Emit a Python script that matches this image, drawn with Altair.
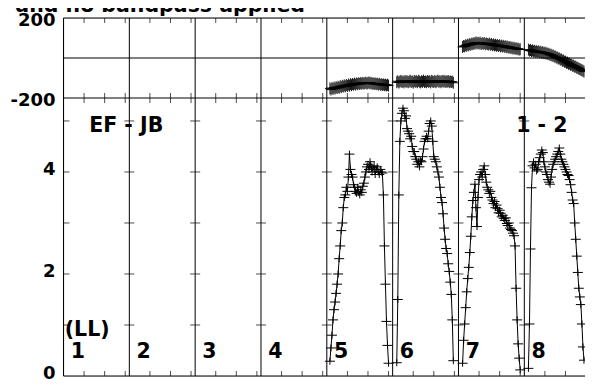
import altair as alt
import pandas as pd

# ---------------- data ----------------
IF_LABELS = ["1", "2", "3", "4", "5", "6", "7", "8"]
CHANNELS_PER_IF = 64
CHANNEL_TICKS = [20, 40, 60]
AMP_TICKS = [1, 2, 3, 4, 5]
AMP_LABELS = [0, 2, 4]
PHASE_LABELS = [-200, 200]

# first channel of the plotted data in each IF that has data
START_CHANNEL = {5: 3, 6: 4, 7: 4, 8: 4}

AMP_IF5 = [0.29, 0.55, 0.8, 1.1, 1.3, 1.45, 1.62, 1.8, 2.0, 2.3,
           2.55, 2.85, 3.0, 3.3, 3.5, 3.55, 3.7, 3.62, 3.9, 4.35,
           4.05, 3.95, 3.9, 3.75, 3.7, 3.62, 3.58, 3.7, 3.6, 3.55,
           3.65, 3.6, 3.72, 3.78, 3.9, 4.0, 4.1, 4.15, 4.05, 4.2,
           4.1, 4.0, 4.08, 4.12, 3.95, 4.05, 4.1, 4.0, 3.95, 4.05,
           4.0, 3.98, 3.55, 2.55, 1.8, 1.07, 0.6, 0.25]
AMP_IF6 = [0.26, 1.5, 3.55, 4.6, 5.0, 5.15, 5.25, 5.2, 5.05, 5.1,
           4.85, 4.8, 4.75, 4.65, 4.7, 4.5, 4.4, 4.4, 4.3, 4.25,
           4.15, 4.2, 4.1, 4.22, 4.2, 4.3, 4.45, 4.6, 4.65, 4.7,
           4.65, 4.8, 4.95, 5.0, 4.9, 4.6, 4.3, 4.25, 4.2, 4.1,
           4.0, 3.9, 3.7, 3.5, 3.4, 3.18, 2.9, 2.68, 2.5, 2.4,
           2.2, 2.05, 1.84, 1.6, 1.1, 0.3]
AMP_IF7 = [0.25, 0.7, 1.02, 1.34, 1.65, 1.91, 2.13, 2.42, 2.74, 3.12,
           3.44, 3.6, 3.76, 3.3, 2.93, 3.5, 3.85, 3.95, 4.0, 3.9,
           4.05, 4.12, 3.95, 3.8, 3.7, 3.65, 3.58, 3.62, 3.5, 3.45,
           3.38, 3.42, 3.3, 3.35, 3.28, 3.2, 3.25, 3.19, 3.12, 3.15,
           3.09, 3.05, 3.1, 2.99, 2.95, 3.0, 2.9, 2.87, 2.85, 2.8,
           2.75, 2.55, 1.72, 1.1, 0.63, 0.35, 0.12]
AMP_IF8 = [0.15, 1.02, 2.49, 3.69, 4.12, 4.2, 4.08, 4.15, 4.02, 4.05,
           4.2, 4.28, 4.35, 4.43, 4.38, 4.2, 4.1, 4.0, 3.95, 3.85,
           3.8, 3.76, 3.9, 4.05, 4.15, 4.2, 4.25, 4.3, 4.35, 4.4,
           4.47, 4.35, 4.25, 4.2, 4.15, 4.1, 4.05, 4.0, 3.95, 3.93,
           3.85, 3.75, 3.6, 3.45, 3.38, 3.0, 2.68, 2.35, 2.03, 1.72,
           1.55, 1.4, 1.02, 0.57, 0.31]

PH_IF5 = [-152, -158, -150, -155, -148, -153, -146, -150, -144, -149,
          -141, -146, -139, -143, -137, -142, -135, -140, -133, -138,
          -131, -136, -130, -134, -128, -133, -127, -131, -126, -130,
          -125, -129, -124, -128, -126, -123, -128, -125, -122, -127,
          -124, -129, -126, -130, -127, -131, -128, -133, -129, -134,
          -131, -135, -132, -136, -133, -137, -134, -138]
PH_IF6 = [-121, -116, -123, -118, -114, -120, -117, -122, -115, -119,
          -116, -121, -118, -113, -120, -117, -123, -115, -119, -116,
          -121, -114, -118, -122, -116, -119, -113, -120, -117, -121,
          -115, -119, -116, -122, -114, -118, -120, -115, -121, -117,
          -113, -119, -116, -121, -115, -118, -114, -120, -116, -119,
          -115, -121, -117, -120, -118, -124]
PH_IF7 = [55, 60, 58, 64, 61, 67, 63, 70, 66, 72,
          69, 75, 71, 78, 73, 76, 72, 77, 70, 74,
          71, 75, 68, 73, 70, 67, 72, 66, 70, 64,
          68, 63, 66, 61, 65, 60, 64, 58, 62, 57,
          61, 55, 59, 53, 57, 51, 55, 49, 53, 47,
          51, 46, 49, 44, 47, 42, 44]
PH_IF8 = [42, 37, 40, 35, 38, 33, 36, 31, 34, 30,
          33, 28, 31, 26, 29, 24, 27, 22, 24, 19,
          21, 15, 17, 11, 13, 7, 8, 2, 3, -3,
          -2, -8, -7, -14, -12, -19, -18, -24, -23, -29,
          -28, -34, -33, -39, -38, -44, -43, -49, -49, -54,
          -55, -59, -61, -64, -68]

TITLE = "ed and no bandpass applied"
BASELINE_LABEL = "EF - JB"
POL_LABEL = "(LL)"
SOURCE_LABEL = "1 - 2"

# ---------------- tables built from the arrays ----------------
rows = []
for ifn, amps, phs in [(5, AMP_IF5, PH_IF5), (6, AMP_IF6, PH_IF6),
                       (7, AMP_IF7, PH_IF7), (8, AMP_IF8, PH_IF8)]:
    s = START_CHANNEL[ifn]
    for i, (a, p) in enumerate(zip(amps, phs)):
        rows.append({"IF": ifn, "chan": s + i,
                     "x": (ifn - 1) * CHANNELS_PER_IF + s + i,
                     "amp": a, "phase": p})
df = pd.DataFrame(rows)

n_if = len(IF_LABELS)
bounds = pd.DataFrame({"x": [k * CHANNELS_PER_IF for k in range(0, n_if)]})
chan_ticks = pd.DataFrame({"x": [k * CHANNELS_PER_IF + c for k in range(n_if)
                                 for c in CHANNEL_TICKS]})
bound_ticks = pd.DataFrame([{"x": k * CHANNELS_PER_IF, "amp": a}
                            for k in range(1, n_if) for a in AMP_TICKS])
left_ticks = pd.DataFrame({"x": [0] * len(AMP_TICKS), "amp": AMP_TICKS})
if_text = pd.DataFrame({"x": [k * CHANNELS_PER_IF + 7.0 for k in range(n_if)],
                        "amp": [0.35] * n_if, "t": IF_LABELS})
pol_text = pd.DataFrame({"x": [1.2], "amp": [0.79], "t": [POL_LABEL]})
head_text = pd.DataFrame({"x": [61.0, 465.0], "amp": [4.79, 4.79],
                          "t": [BASELINE_LABEL, SOURCE_LABEL]})
ph_lab = pd.DataFrame({"v": PHASE_LABELS, "t": [str(v) for v in PHASE_LABELS]})
am_lab = pd.DataFrame({"v": AMP_LABELS, "t": [str(v) for v in AMP_LABELS]})
one = pd.DataFrame({"v": [0]})
ph_edges = pd.DataFrame({"v": PHASE_LABELS})

# ---------------- scales ----------------
XS = alt.Scale(domain=[0, 507], nice=False, zero=False)
PH = alt.Scale(domain=[-200, 200], range=[80, 0], nice=False, zero=False)
AMP_TOP = 5.45
AM = alt.Scale(domain=[0, AMP_TOP], range=[358, 80], nice=False, zero=False)

FONT = "DejaVu Sans"
CROSS_AMP = "M-1,0H1M0,-0.7V0.7"
CROSS_PH = "M-1,0H1M0,-1.2V1.2"

x_enc = alt.X("x:Q", scale=XS, axis=None)

LAB = dict(font=FONT, fontWeight="bold", fontSize=18, color="black",
           align="right", baseline="middle")

# ---------------- phase panel ----------------
ph_line = alt.Chart(df).mark_line(color="black", strokeWidth=1, clip=True).encode(
    x=x_enc, y=alt.Y("phase:Q", scale=PH, axis=None), detail="IF:N")
ph_pts = alt.Chart(df).mark_point(shape=CROSS_PH, filled=False, size=100,
                                  color="black", strokeWidth=1, opacity=0.9,
                                  clip=True).encode(
    x=x_enc, y=alt.Y("phase:Q", scale=PH, axis=None))
ph_zero = alt.Chart(one).mark_rule(color="black", strokeWidth=1).encode(
    y=alt.Y("v:Q", scale=PH, axis=None))
ph_frame = alt.Chart(ph_edges).mark_rule(color="black", strokeWidth=1).encode(
    y=alt.Y("v:Q", scale=PH, axis=None))
ph_tick_top = alt.Chart(chan_ticks).transform_calculate(b="200").mark_tick(
    orient="vertical", size=5, thickness=1, color="black", yOffset=2.5).encode(
    x=x_enc, y=alt.Y("b:Q", scale=PH, axis=None))
ph_tick_bot = alt.Chart(chan_ticks).transform_calculate(b="-200").mark_tick(
    orient="vertical", size=5, thickness=1, color="black", yOffset=-2.5).encode(
    x=x_enc, y=alt.Y("b:Q", scale=PH, axis=None))
ph_labels = alt.Chart(ph_lab).mark_text(dx=-8, dy=2.5, **LAB).encode(
    x=alt.value(0), y=alt.Y("v:Q", scale=PH, axis=None), text="t:N")

phase_panel = alt.layer(ph_zero, ph_frame, ph_tick_top, ph_tick_bot, ph_line,
                        ph_pts, ph_labels)

# ---------------- amplitude panel ----------------
b_rules = alt.Chart(bounds).mark_rule(color="black", strokeWidth=1).encode(x=x_enc)
am_bottom = alt.Chart(one).mark_rule(color="black", strokeWidth=1).encode(
    y=alt.Y("v:Q", scale=AM, axis=None))
am_line = alt.Chart(df).mark_line(color="black", strokeWidth=1, clip=True).encode(
    x=x_enc, y=alt.Y("amp:Q", scale=AM, axis=None), detail="IF:N")
am_pts = alt.Chart(df).mark_point(shape=CROSS_AMP, filled=False, size=100,
                                  color="black", strokeWidth=1, opacity=1,
                                  clip=True).encode(
    x=x_enc, y=alt.Y("amp:Q", scale=AM, axis=None))
am_tick_bot = alt.Chart(chan_ticks).transform_calculate(b="0").mark_tick(
    orient="vertical", size=5, thickness=1, color="black", yOffset=-2.5).encode(
    x=x_enc, y=alt.Y("b:Q", scale=AM, axis=None))
am_tick_top = alt.Chart(chan_ticks).transform_calculate(b=str(AMP_TOP)).mark_tick(
    orient="vertical", size=5, thickness=1, color="black", yOffset=2.5).encode(
    x=x_enc, y=alt.Y("b:Q", scale=AM, axis=None))
am_btick = alt.Chart(bound_ticks).mark_tick(
    orient="horizontal", size=10, thickness=1, color="black").encode(
    x=x_enc, y=alt.Y("amp:Q", scale=AM, axis=None))
am_ltick = alt.Chart(left_ticks).mark_tick(
    orient="horizontal", size=6, thickness=1, color="black", xOffset=3).encode(
    x=x_enc, y=alt.Y("amp:Q", scale=AM, axis=None))
am_labels = alt.Chart(am_lab).mark_text(dx=-8, dy=-2, **LAB).encode(
    x=alt.value(0), y=alt.Y("v:Q", scale=AM, axis=None), text="t:N")

TXT = dict(font=FONT, fontWeight="bold", fontSize=20.5, color="black",
           baseline="alphabetic")
t_if = alt.Chart(if_text).mark_text(align="left", **TXT).encode(
    x=x_enc, y=alt.Y("amp:Q", scale=AM, axis=None), text="t:N")
t_pol = alt.Chart(pol_text).mark_text(align="left", **TXT).encode(
    x=x_enc, y=alt.Y("amp:Q", scale=AM, axis=None), text="t:N")
t_head = alt.Chart(head_text).mark_text(align="center", **TXT).encode(
    x=x_enc, y=alt.Y("amp:Q", scale=AM, axis=None), text="t:N")
t_title = alt.Chart(one).mark_text(align="right", font=FONT, fontWeight="bold",
                                   fontSize=20.5, color="black",
                                   baseline="alphabetic").encode(
    x=alt.value(241.5), y=alt.value(-6), text=alt.value(TITLE))

amp_panel = alt.layer(b_rules, am_bottom, am_tick_bot, am_tick_top, am_btick,
                      am_ltick, am_line, am_pts, am_labels, t_if, t_pol,
                      t_head, t_title)

chart = alt.layer(phase_panel, amp_panel).resolve_scale(y="independent").properties(
    width=521.5, height=358,
    autosize=alt.AutoSizeParams(type="none"),
    padding={"left": 55.5, "top": 10, "right": 0, "bottom": 8},
).configure_view(strokeWidth=0, strokeOpacity=0).configure(background="white")

chart.save("out.html", embed_options={"renderer": "svg", "actions": False})
